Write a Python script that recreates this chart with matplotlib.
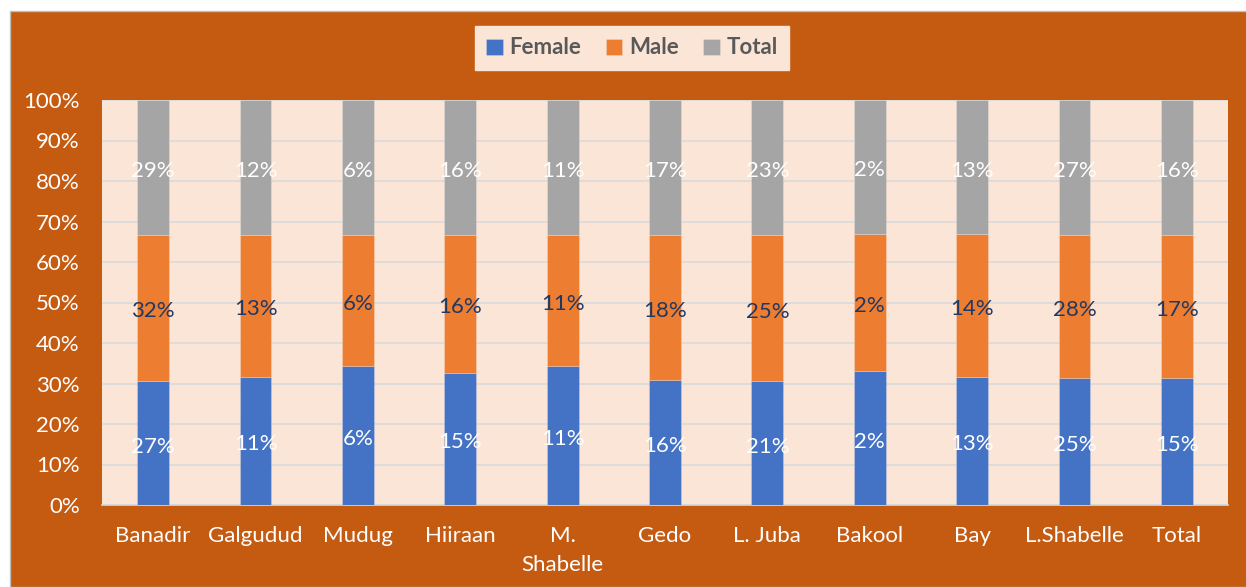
"""100% stacked bars: Female / Male / Total share by region."""
import matplotlib
matplotlib.use("Agg")
import matplotlib.pyplot as plt  # noqa: E402
import numpy as np  # noqa: E402
from matplotlib.patches import Rectangle  # noqa: E402
from matplotlib.ticker import PercentFormatter  # noqa: E402
from matplotlib.transforms import offset_copy  # noqa: E402

regions = ["Banadir", "Galgudud", "Mudug", "Hiiraan", "M.\nShabelle", "Gedo",
           "L. Juba", "Bakool", "Bay", "L.Shabelle", "Total"]
female = [27.0, 11.4, 6.2, 15.3, 11.3, 15.9, 21.1, 2.0, 12.8, 25.2, 15.2]
male = [32.0, 12.6, 5.8, 16.0, 10.7, 18.4, 24.9, 2.05, 14.2, 28.3, 17.1]
total = [29.4, 12.0, 6.0, 15.65, 11.0, 17.1, 23.0, 2.0, 13.4, 26.7, 16.1]

BG = "#C55A11"
PLOT_BG = "#FBE5D6"
COLORS = {"Female": "#4472C4", "Male": "#ED7D31", "Total": "#A5A5A5"}
LABEL_COLORS = {"Female": "white", "Male": "#203864", "Total": "white"}

plt.rcParams["font.family"] = ["Lato", "DejaVu Sans"]

series = {"Female": np.array(female), "Male": np.array(male), "Total": np.array(total)}
sums = sum(series.values())

fig = plt.figure(figsize=(12.46, 5.87), dpi=100, facecolor="white")
fig.patches.append(Rectangle((10 / 1246, 0), 1, 1 - 11 / 587, transform=fig.transFigure,
                             facecolor=BG, edgecolor="#BFBFBF", lw=1, zorder=-1))
ax = fig.add_axes([102 / 1246, 1 - 505 / 587, 1126 / 1246, 405 / 587])
ax.set_facecolor(PLOT_BG)
lbl_tr = offset_copy(ax.transData, fig=fig, x=0, y=-2.5, units="points")

x = np.arange(len(regions))
bottom = np.zeros(len(regions))
for name, vals in series.items():
    frac = vals / sums * 100
    ax.bar(x, frac, 0.31, bottom=bottom, color=COLORS[name], label=name, zorder=3,
           edgecolor="#FFFFFF40", lw=0.6)
    for xi, b, f, v in zip(x, bottom, frac, vals):
        ax.text(xi, b + f / 2, f"{v:.0f}%", ha="center", va="center", fontsize=16,
                color=LABEL_COLORS[name], zorder=4, transform=lbl_tr)
    bottom += frac

ax.set_xlim(-0.5, len(regions) - 0.5)
ax.set_ylim(0, 100)
ax.set_yticks(range(0, 101, 10))
ax.yaxis.set_major_formatter(PercentFormatter(decimals=0))
ax.set_xticks(x, regions)
ax.tick_params(length=0, labelsize=16, colors="white", pad=16)
ax.tick_params(axis="x", pad=15)
for lbl in ax.get_xticklabels():
    lbl.set_linespacing(1.6)
    lbl.set_va("top")
ax.grid(axis="y", color="#D9D9D9", lw=1.2, zorder=0)
for side in ("top", "right", "left"):
    ax.spines[side].set_visible(False)
ax.spines["bottom"].set_color("#D9D9D9")
ax.spines["bottom"].set_linewidth(1.2)

leg = fig.legend(loc="center", bbox_to_anchor=(632 / 1246, 1 - 48 / 587), ncol=3,
                 frameon=True, fancybox=False, facecolor=PLOT_BG, edgecolor=PLOT_BG,
                 framealpha=1, handlelength=0.75, handleheight=0.75, handletextpad=0.3,
                 columnspacing=1.1, borderpad=0.5, borderaxespad=0,
                 prop={"size": 16, "weight": "bold"})
for t in leg.get_texts():
    t.set_color("#595959")

fig.savefig("out.png", dpi=100, facecolor=fig.get_facecolor())
